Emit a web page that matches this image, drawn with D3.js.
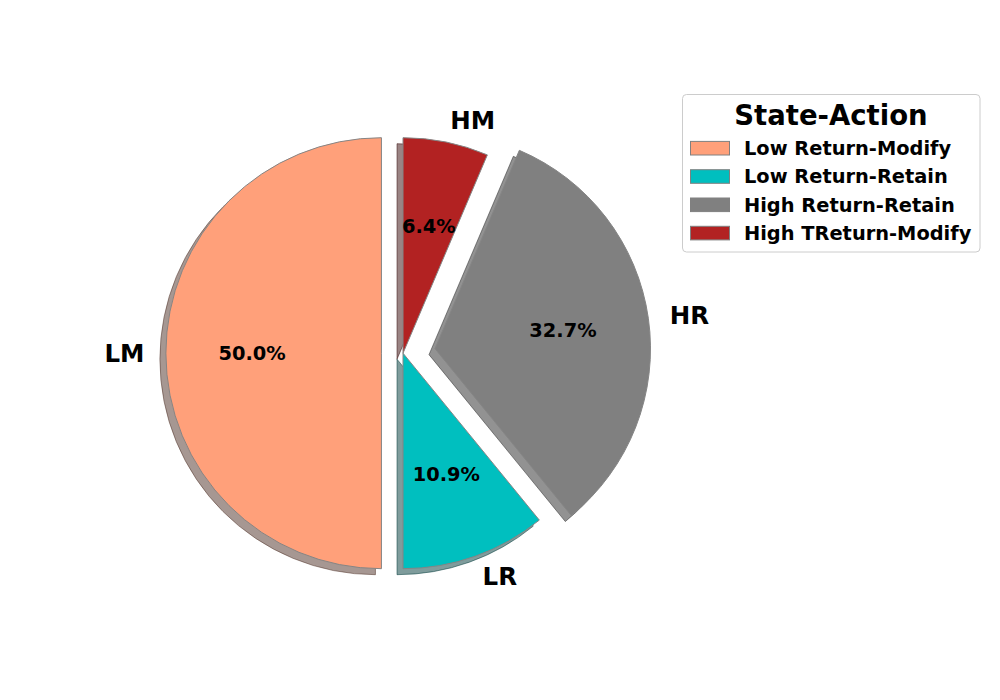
<!DOCTYPE html>
<html>
<head>
<meta charset="utf-8">
<script src="https://cdn.jsdelivr.net/npm/d3@7"></script>
<style>
  html, body { margin: 0; padding: 0; background: #fff; }
  svg text { font-family: "DejaVu Sans", sans-serif; font-weight: bold; }
</style>
</head>
<body>
<svg id="chart" width="1000" height="700"></svg>
<script>
// ---- data ----
const sliceLabels = ["LM", "LR", "HR", "HM"];
const sliceValues = [50.0, 10.9, 32.7, 6.4];
const legendLabels = ["Low Return-Modify", "Low Return-Retain", "High Return-Retain", "High TReturn-Modify"];
const sliceColors = ["#FFA07A", "#00BFBF", "#808080", "#B22222"];
const explodeAmounts = [0.1, 0, 0.15, 0];
const legendTitle = "State-Action";

// ---- layout ----
const svg = d3.select("#chart");
const cx = 403, cy = 353.2;
const rScale = d3.scaleLinear().domain([0, 1]).range([0, 215.5]);
const R = rScale(1);
const shadowOffset = 6;

const data = sliceLabels.map((l, i) => ({
  label: l, value: sliceValues[i], color: sliceColors[i], explode: explodeAmounts[i], legend: legendLabels[i]
}));
const total = d3.sum(sliceValues);

const pie = d3.pie().sort(null).value(d => d.value).startAngle(0).endAngle(-2 * Math.PI);
const arcs = pie(data);
const arcGen = d3.arc().innerRadius(0).outerRadius(R);

arcs.forEach(a => {
  const m = (a.startAngle + a.endAngle) / 2;
  a.mid = m;
  a.dx = Math.sin(m) * rScale(a.data.explode);
  a.dy = -Math.cos(m) * rScale(a.data.explode);
});

const g = svg.append("g").attr("transform", `translate(${cx},${cy})`);

function shade(c) {
  const rgb = d3.rgb(c);
  return d3.rgb(rgb.r * 0.3, rgb.g * 0.3, rgb.b * 0.3).formatHex();
}

// shadows
g.append("g").selectAll("path").data(arcs).join("path")
  .attr("d", arcGen)
  .attr("transform", d => `translate(${d.dx - shadowOffset},${d.dy + shadowOffset})`)
  .attr("fill", d => shade(d.data.color))
  .attr("fill-opacity", 0.5)
  .attr("stroke", d => shade(d.data.color))
  .attr("stroke-opacity", 0.5)
  .attr("stroke-width", 1);

// wedges
g.append("g").selectAll("path").data(arcs).join("path")
  .attr("d", arcGen)
  .attr("transform", d => `translate(${d.dx},${d.dy})`)
  .attr("fill", d => d.data.color)
  .attr("stroke", "#858585")
  .attr("stroke-width", 1)
  .attr("stroke-linejoin", "miter");

// outer labels
g.append("g").selectAll("text").data(arcs).join("text")
  .attr("x", d => d.dx + Math.sin(d.mid) * rScale(1.1))
  .attr("y", d => d.dy - Math.cos(d.mid) * rScale(1.1))
  .attr("text-anchor", d => Math.sin(d.mid) < 0 ? "end" : "start")
  .attr("dominant-baseline", "central")
  .attr("font-size", "24.5px")
  .attr("fill", "#000")
  .text(d => d.data.label);

// percent labels
g.append("g").selectAll("text").data(arcs).join("text")
  .attr("x", d => d.dx + Math.sin(d.mid) * rScale(0.6))
  .attr("y", d => d.dy - Math.cos(d.mid) * rScale(0.6))
  .attr("text-anchor", "middle")
  .attr("dominant-baseline", "central")
  .attr("font-size", "19.4px")
  .attr("fill", "#000")
  .text(d => (d.data.value / total * 100).toFixed(1) + "%");

// legend
const lg = svg.append("g");
lg.append("rect")
  .attr("x", 682.5).attr("y", 94.5)
  .attr("width", 297.5).attr("height", 157.5)
  .attr("rx", 4).attr("ry", 4)
  .attr("fill", "#fff").attr("fill-opacity", 0.8)
  .attr("stroke", "#cccccc").attr("stroke-width", 1);

lg.append("text")
  .attr("x", 831).attr("y", 124.5)
  .attr("text-anchor", "middle")
  .attr("font-size", "27.5px")
  .attr("fill", "#000")
  .text(legendTitle);

const rowY = d3.scaleLinear().domain([0, 1]).range([155, 183.3]);
const items = lg.selectAll("g.item").data(data).join("g").attr("class", "item");
items.append("rect")
  .attr("x", 690.5)
  .attr("y", (d, i) => rowY(i) - 6.8 - 6.8)
  .attr("width", 39).attr("height", 13.6)
  .attr("fill", d => d.color)
  .attr("stroke", "#808080").attr("stroke-width", 1);
items.append("text")
  .attr("x", 744)
  .attr("y", (d, i) => rowY(i))
  .attr("font-size", "19.4px")
  .attr("fill", "#000")
  .text(d => d.legend);
</script>
</body>
</html>
